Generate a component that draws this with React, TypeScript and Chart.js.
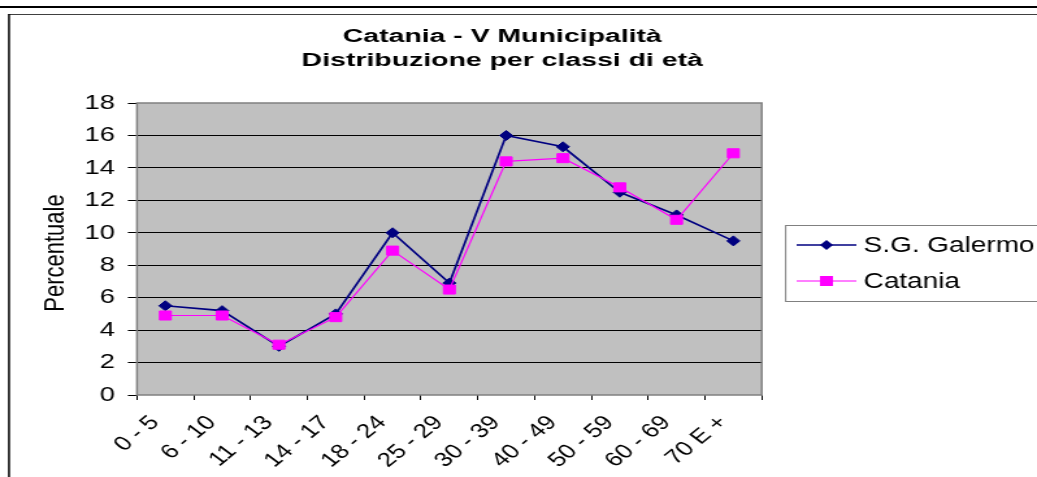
import React, { useEffect, useRef } from 'react';
import { Chart, registerables } from 'chart.js';

Chart.register(...registerables);

const categories = ['0 - 5', '6 - 10', '11 - 13', '14 - 17', '18 - 24', '25 - 29', '30 - 39', '40 - 49', '50 - 59', '60 - 69', '70 E +'];
const sgGalermo = [5.5, 5.2, 3.0, 5.0, 10.0, 6.9, 16.0, 15.3, 12.5, 11.1, 9.5];
const catania = [4.9, 4.9, 3.1, 4.8, 8.9, 6.5, 14.4, 14.6, 12.8, 10.8, 14.9];
const seriesNames = ['S.G. Galermo', 'Catania'];
const seriesColors = ['#000080', '#FF00FF'];
const titleLines = ['Catania - V Municipalità', 'Distribuzione per classi di età'];
const yAxisTitle = 'Percentuale';
const yMin = 0;
const yMax = 18;
const yStep = 2;

const FONT = '"Liberation Sans", Arial, sans-serif';
const LOGICAL_W = 798;
const H = 477;
const CSS_W = 1037;

const decor = {
  id: 'decor',
  beforeDraw(chart: any) {
    const ctx = chart.ctx;
    const { left, top, right, bottom } = chart.chartArea;
    ctx.save();
    ctx.fillStyle = '#ffffff';
    ctx.fillRect(0, 0, chart.width, chart.height);
    ctx.fillStyle = '#000000';
    ctx.fillRect(0, 6, chart.width, 2);
    ctx.fillStyle = '#404040';
    ctx.fillRect(6.5, 14, chart.width, 1);
    ctx.fillStyle = '#000000';
    ctx.fillRect(6.2, 14, 1.5, chart.height);
    ctx.fillStyle = '#c0c0c0';
    ctx.fillRect(left, top, right - left, bottom - top);
    ctx.restore();
  },
  beforeDatasetsDraw(chart: any) {
    const ctx = chart.ctx;
    const { left, top, right, bottom } = chart.chartArea;
    ctx.save();
    ctx.strokeStyle = '#808080';
    ctx.lineWidth = 1.5;
    ctx.strokeRect(left, top, right - left, bottom - top);
    ctx.restore();
  },
  afterDraw(chart: any) {
    const ctx = chart.ctx;
    ctx.save();
    // title (horizontally widened like the reference)
    ctx.fillStyle = '#000';
    ctx.font = `bold 17.5px ${FONT}`;
    ctx.textAlign = 'center';
    ctx.textBaseline = 'alphabetic';
    const sx = 1.25;
    ctx.save();
    ctx.translate(386.5, 0);
    ctx.scale(sx, 1);
    ctx.fillText(titleLines[0], 0, 42);
    ctx.fillText(titleLines[1], 0, 66);
    ctx.restore();
    // legend
    const lx = 604.6;
    const ly = 225.5;
    ctx.fillStyle = '#fff';
    ctx.fillRect(lx, ly, 400, 76);
    ctx.strokeStyle = '#808080';
    ctx.lineWidth = 1;
    ctx.strokeRect(lx, ly, 400, 76);
    const rows = [245, 281];
    rows.forEach((y, i) => {
      ctx.strokeStyle = seriesColors[i];
      ctx.lineWidth = i === 0 ? 1.6 : 1.2;
      ctx.beginPath();
      ctx.moveTo(613, y);
      ctx.lineTo(659, y);
      ctx.stroke();
      ctx.fillStyle = seriesColors[i];
      ctx.beginPath();
      if (i === 0) {
        const r = 5;
        ctx.moveTo(636, y - r);
        ctx.lineTo(636 + r, y);
        ctx.lineTo(636, y + r);
        ctx.lineTo(636 - r, y);
        ctx.closePath();
      } else {
        ctx.rect(631, y - 5, 10, 10);
      }
      ctx.fill();
      ctx.fillStyle = '#000';
      ctx.font = `21.5px ${FONT}`;
      ctx.textAlign = 'left';
      ctx.textBaseline = 'middle';
      ctx.fillText(seriesNames[i], 664.6, y + 1);
    });
    // y axis title
    const { top, bottom } = chart.chartArea;
    ctx.save();
    ctx.translate(42.5, (top + bottom) / 2 + 4);
    ctx.rotate(-Math.PI / 2);
    ctx.font = `22px ${FONT}`;
    ctx.textAlign = 'center';
    ctx.textBaseline = 'middle';
    ctx.fillStyle = '#000';
    ctx.fillText(yAxisTitle, 0, 0);
    ctx.restore();
    ctx.restore();
  },
};

export default function App() {
  const ref = useRef<HTMLCanvasElement>(null);
  useEffect(() => {
    const canvas = ref.current!;
    const chart = new Chart(canvas, {
      type: 'line',
      data: {
        labels: categories,
        datasets: [
          {
            label: seriesNames[0],
            data: sgGalermo,
            borderColor: seriesColors[0],
            backgroundColor: seriesColors[0],
            borderWidth: 1.7,
            pointStyle: 'rectRot',
            pointRadius: 5,
            pointBorderWidth: 1,
            tension: 0,
            order: 1,
          },
          {
            label: seriesNames[1],
            data: catania,
            borderColor: seriesColors[1],
            backgroundColor: seriesColors[1],
            borderWidth: 1.2,
            pointStyle: 'rect',
            pointRadius: 6.4,
            pointBorderWidth: 1,
            tension: 0,
            order: 0,
          },
        ],
      },
      options: {
        responsive: false,
        animation: false,
        events: [],
        layout: { padding: { top: 103, right: LOGICAL_W - 586.2, bottom: 0, left: 0 } },
        plugins: { legend: { display: false }, title: { display: false }, tooltip: { enabled: false } },
        scales: {
          x: {
            type: 'category',
            offset: true,
            border: { display: false },
            grid: { offset: true, drawOnChartArea: false, drawTicks: true, tickLength: 5, color: '#000', lineWidth: 1 },
            ticks: {
              autoSkip: false,
              maxRotation: 46,
              minRotation: 46,
              color: '#000',
              font: { family: FONT, size: 20 },
              padding: 11,
              labelOffset: -8,
            },
            afterFit: (s: any) => {
              s.height = H - 395;
            },
          },
          y: {
            min: yMin,
            max: yMax,
            border: { display: false },
            grid: {
              color: (c: any) => (c.tick && (c.tick.value === yMin || c.tick.value === yMax) ? 'rgba(0,0,0,0)' : '#000'),
              tickColor: '#000',
              tickLength: 7,
              lineWidth: 1,
            },
            ticks: { stepSize: yStep, color: '#000', font: { family: FONT, size: 21 }, padding: 10 },
            title: { display: false },
            afterFit: (s: any) => {
              s.width = 105.4;
            },
          },
        },
      },
      plugins: [decor],
    });
    canvas.style.width = CSS_W + 'px';
    canvas.style.height = H + 'px';
    return () => chart.destroy();
  }, []);
  return (
    <div style={{ position: 'fixed', left: 0, top: 0, width: CSS_W, height: H, overflow: 'hidden', background: '#fff' }}>
      <canvas ref={ref} width={LOGICAL_W} height={H} style={{ width: CSS_W + 'px', height: H + 'px', display: 'block' }} />
    </div>
  );
}
